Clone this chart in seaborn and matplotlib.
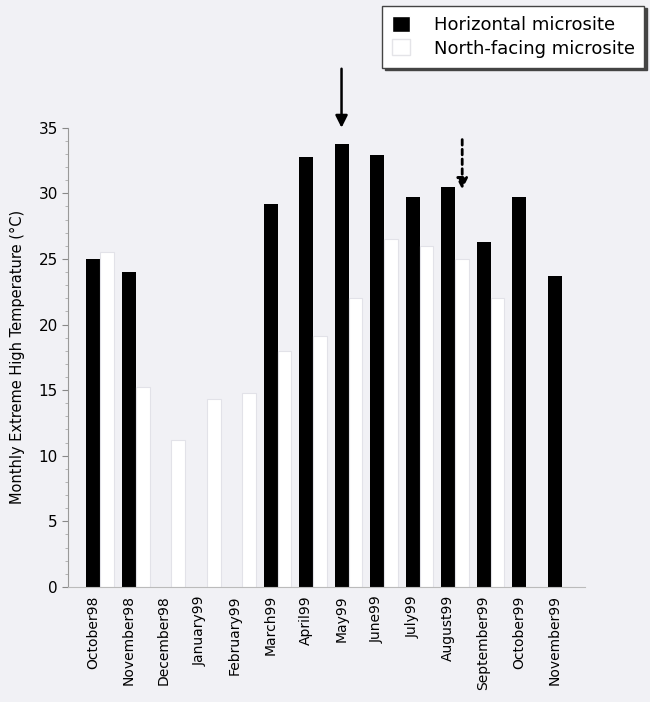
import numpy as np
import pandas as pd
import matplotlib
matplotlib.use('Agg')
import matplotlib.pyplot as plt
from matplotlib.ticker import MultipleLocator
import seaborn as sns

months = ['October98', 'November98', 'December98', 'January99', 'February99', 'March99',
          'April99', 'May99', 'June99', 'July99', 'August99', 'September99',
          'October99', 'November99']
horizontal = [25.0, 24.0, 0.0, 0.0, 0.0, 29.2, 32.8, 33.8, 32.9, 29.7, 30.5, 26.3, 29.7, 23.7]
north = [25.5, 15.2, 11.2, 14.3, 14.8, 18.0, 19.1, 22.0, 26.5, 26.0, 25.0, 22.0, 0.0, 0.0]
series = ['Horizontal microsite', 'North-facing microsite']

df = pd.DataFrame({
    'month': months * 2,
    'temp': horizontal + north,
    'site': [series[0]] * len(months) + [series[1]] * len(months),
})

sns.set_style('ticks')
plt.rcParams['font.family'] = ['DejaVu Sans']
plt.rcParams['text.color'] = 'black'
plt.rcParams['axes.labelcolor'] = 'black'
plt.rcParams['xtick.labelcolor'] = 'black'
plt.rcParams['ytick.labelcolor'] = 'black'
bg = '#f1f1f5'

fig = plt.figure(figsize=(6.5, 7.02), dpi=100, facecolor=bg)
ax = fig.add_axes([0.105, 0.164, 0.795, 0.654])
ax.set_facecolor(bg)

sns.barplot(data=df, x='month', y='temp', hue='site', order=months, hue_order=series,
            palette=['black', 'white'], width=0.78, saturation=1, ax=ax,
            edgecolor='none', legend=False)
for p in ax.patches[len(months):]:
    p.set_edgecolor('#e2e2e8')
    p.set_linewidth(0.8)

ax.set_ylim(0, 35)
ax.set_xlim(-0.9, 13.66)
ax.yaxis.set_major_locator(MultipleLocator(5))
ax.yaxis.set_minor_locator(MultipleLocator(1))
ax.set_xticks(np.arange(len(months)) - 0.2)
ax.set_xticklabels(months, rotation=90, fontsize=10)
ax.tick_params(axis='x', length=0, pad=6)
ax.tick_params(axis='y', labelsize=11, color='#888888', length=4)
ax.tick_params(axis='y', which='minor', color='#aaaaaa', length=2)
ax.set_xlabel('')
ax.set_ylabel('Monthly Extreme High Temperature (°C)', fontsize=10.5, labelpad=10)
sns.despine(ax=ax, top=True, right=True)
ax.spines['left'].set_color('#999999')
ax.spines['bottom'].set_color('#bbbbbb')

# arrows above May99 and August99
ax.annotate('', xy=(6.8, 35.0), xytext=(6.8, 39.5), annotation_clip=False,
            arrowprops=dict(arrowstyle='-|>', color='black', lw=1.8, mutation_scale=18,
                            shrinkA=0, shrinkB=0))
ax.annotate('', xy=(10.2, 30.3), xytext=(10.2, 34.1), annotation_clip=False,
            arrowprops=dict(arrowstyle='-|>', color='black', lw=2, ls=(0, (2, 1.5)),
                            mutation_scale=16, shrinkA=0, shrinkB=0))

handles = [plt.Rectangle((0, 0), 1, 1, fc='black'),
           plt.Rectangle((0, 0), 1, 1, fc='white', ec='#e4e4e8')]
leg = fig.legend(handles, series, loc='upper right', bbox_to_anchor=(0.997, 0.997),
                 fontsize=13, frameon=True, fancybox=False,
                 shadow={'ox': 2, 'oy': -2, 'color': '#444444', 'alpha': 1},
                 handlelength=1.0, handleheight=1.0, handletextpad=1.3,
                 borderpad=0.55, labelspacing=0.3, borderaxespad=0.2)
leg.get_frame().set_edgecolor('#444444')
leg.get_frame().set_facecolor('white')
leg.get_frame().set_linewidth(1.0)

fig.savefig('out.png', dpi=100, facecolor=bg)
